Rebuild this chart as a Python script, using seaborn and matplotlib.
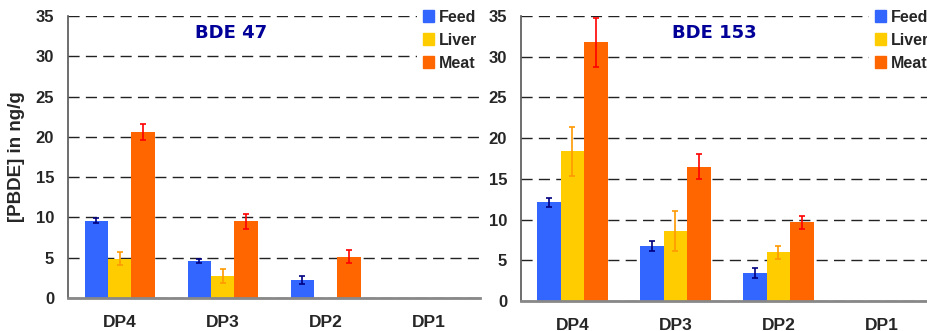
import numpy as np
import pandas as pd
import matplotlib
matplotlib.use('Agg')
import matplotlib.pyplot as plt
import seaborn as sns

points = ['DP4', 'DP3', 'DP2', 'DP1']
matrices = ['Feed', 'Liver', 'Meat']

# BDE 47 (ng/g)
bde47_feed = [9.6, 4.6, 2.2, 0.0]
bde47_liver = [4.9, 2.7, 0.0, 0.0]
bde47_meat = [20.6, 9.5, 5.1, 0.0]
bde47_feed_err = [0.3, 0.2, 0.5, 0.0]
bde47_liver_err = [0.8, 0.9, 0.0, 0.0]
bde47_meat_err = [1.0, 0.9, 0.8, 0.0]

# BDE 153 (ng/g)
bde153_feed = [12.1, 6.8, 3.4, 0.0]
bde153_liver = [18.4, 8.6, 6.0, 0.0]
bde153_meat = [31.8, 16.5, 9.7, 0.0]
bde153_feed_err = [0.5, 0.6, 0.6, 0.0]
bde153_liver_err = [3.0, 2.4, 0.8, 0.0]
bde153_meat_err = [3.0, 1.5, 0.8, 0.0]

bar_colors = ['#3366FF', '#FFCC00', '#FF6600']
err_colors = ['#000080', '#FF9900', '#FF0000']

sns.set_style('white')
plt.rcParams['font.family'] = ['Liberation Sans', 'DejaVu Sans']
plt.rcParams['font.weight'] = 'bold'


def make_df(feed, liver, meat):
    rows = []
    for m, vals in zip(matrices, [feed, liver, meat]):
        for p, v in zip(points, vals):
            rows.append({'point': p, 'matrix': m, 'value': v})
    return pd.DataFrame(rows)


def draw_panel(ax, df, errs, title, title_x, legend_anchor, ylabel=None):
    sns.barplot(data=df, x='point', y='value', hue='matrix', order=points,
                hue_order=matrices, palette=bar_colors, width=0.68,
                saturation=1, errorbar=None, linewidth=0, ax=ax)
    for cont, err, ec in zip(ax.containers, errs, err_colors):
        xs = [b.get_x() + b.get_width() / 2 for b in cont]
        hs = [b.get_height() for b in cont]
        e = np.array(err)
        mask = e > 0
        ax.errorbar(np.array(xs)[mask], np.array(hs)[mask], yerr=e[mask],
                    fmt='none', ecolor=ec, elinewidth=1.2, capsize=2.5,
                    capthick=1.2, zorder=5)
    ax.set_ylim(0, 35)
    ax.set_xlim(-0.5, 3.5)
    ax.set_yticks(range(0, 36, 5))
    ax.yaxis.grid(True, linestyle=(0, (8, 4.5)), color='#222222', linewidth=1.0)
    ax.set_axisbelow(True)
    ax.set_xlabel('')
    if ylabel:
        ax.set_ylabel(ylabel, fontsize=13.5, fontweight='bold', labelpad=8)
    else:
        ax.set_ylabel('')
    ax.set_xticks([0, 1, 2, 3])
    ax.set_xticklabels(points, fontsize=12.5, fontweight='bold')
    ax.set_xticks([-0.5, 0.5, 1.5, 2.5, 3.5], minor=True)
    ax.tick_params(axis='x', which='major', length=0, pad=12)
    ax.tick_params(axis='x', which='minor', length=5, width=1.2, color='#555555', direction='out')
    ax.tick_params(axis='y', length=4, width=1, color='#555555', labelsize=12, direction='out', pad=6)
    for lab in ax.get_yticklabels():
        lab.set_fontweight('bold')
    for s in ['top', 'right']:
        ax.spines[s].set_visible(False)
    ax.spines['left'].set_color('#555555')
    ax.spines['left'].set_linewidth(1.2)
    ax.spines['bottom'].set_color('#888888')
    ax.spines['bottom'].set_linewidth(2)
    ax.text(title_x, 0.94, title, transform=ax.transAxes, ha='center', va='center',
            fontsize=13, fontweight='bold', color='#000099', family='DejaVu Sans')
    ax.get_legend().remove()
    handles = [plt.Rectangle((0, 0), 1, 1, color=c) for c in bar_colors]
    leg = ax.figure.legend(handles, matrices, loc='upper left', bbox_to_anchor=legend_anchor,
                           frameon=True, facecolor='white', edgecolor='none', framealpha=1,
                           fancybox=False, handlelength=0.7, handleheight=0.75,
                           handletextpad=0.3, labelspacing=0.5, borderpad=0.4,
                           borderaxespad=0, prop={'weight': 'bold', 'size': 11.5})
    leg.set_zorder(10)
    return leg


fig = plt.figure(figsize=(9.28, 3.31), dpi=100)
ax1 = fig.add_axes([0.0733, 0.0997, 0.444, 0.852])
ax2 = fig.add_axes([0.5614, 0.0906, 0.444, 0.861])

df47 = make_df(bde47_feed, bde47_liver, bde47_meat)
df153 = make_df(bde153_feed, bde153_liver, bde153_meat)

draw_panel(ax1, df47, [bde47_feed_err, bde47_liver_err, bde47_meat_err],
           'BDE 47', 0.395, (0.449, 0.99), ylabel='[PBDE] in ng/g')
draw_panel(ax2, df153, [bde153_feed_err, bde153_liver_err, bde153_meat_err],
           'BDE 153', 0.47, (0.936, 0.99))

fig.savefig('out.png', dpi=100)
